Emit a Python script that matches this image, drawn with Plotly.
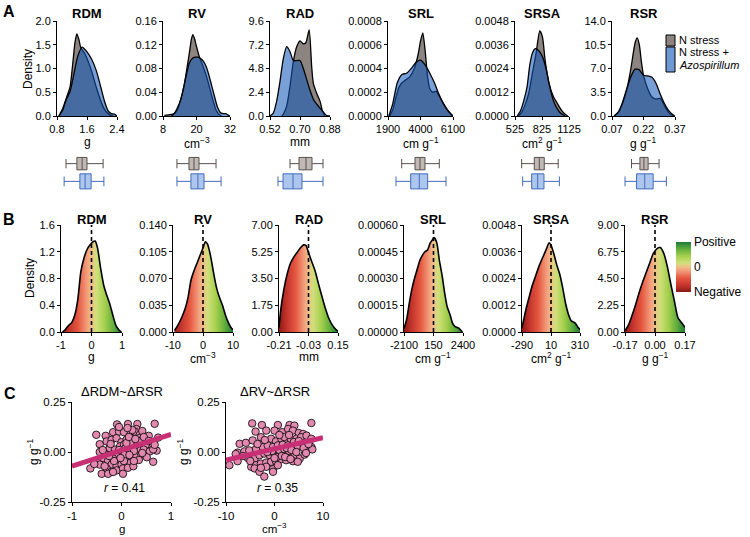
import plotly.graph_objects as go

W, H = 750, 537
FONT = "Arial, Liberation Sans, Helvetica, sans-serif"

# ---------------- data ----------------
VARS = ["RDM", "RV", "RAD", "SRL", "SRSA", "RSR"]
UNITS = ["g", "cm<sup>−3</sup>", "mm", "cm g<sup>−1</sup>", "cm<sup>2</sup> g<sup>−1</sup>", "g g<sup>−1</sup>"]

# Panel A axes
A_XTICKS = [[0.8, 1.6, 2.4], [8, 20, 32], [0.52, 0.70, 0.88], [1900, 4000, 6100], [525, 825, 1125], [0.07, 0.22, 0.37]]
A_XTEXT = [["0.8", "1.6", "2.4"], ["8", "20", "32"], ["0.52", "0.70", "0.88"], ["1900", "4000", "6100"],
           ["525", "825", "1125"], ["0.07", "0.22", "0.37"]]
A_YTICKS = [[0, 0.5, 1.0, 1.5, 2.0], [0, 0.04, 0.08, 0.12, 0.16], [0, 2.4, 4.8, 7.2, 9.6],
            [0, 0.0002, 0.0004, 0.0006, 0.0008], [0, 0.0012, 0.0024, 0.0036, 0.0048], [0, 3.5, 7.0, 10.5, 14.0]]
A_YTEXT = [["0.0", "0.5", "1.0", "1.5", "2.0"], ["0.00", "0.04", "0.08", "0.12", "0.16"],
           ["0.0", "2.4", "4.8", "7.2", "9.6"], ["0.0000", "0.0002", "0.0004", "0.0006", "0.0008"],
           ["0.0000", "0.0012", "0.0024", "0.0036", "0.0048"], ["0.0", "3.5", "7.0", "10.5", "14.0"]]

# Panel A densities: N stress (NS) and N stress + Azospirillum (AZ)
RDM_NS_X = [0.85, 0.95, 1.05, 1.15, 1.22, 1.28, 1.33, 1.38, 1.43, 1.55, 1.70, 1.85, 2.00, 2.10, 2.20, 2.30]
RDM_NS_Y = [0, 0.15, 0.38, 0.62, 1.10, 1.55, 1.73, 1.62, 1.45, 1.30, 1.00, 0.60, 0.25, 0.10, 0.03, 0]
RDM_AZ_X = [0.85, 0.95, 1.05, 1.15, 1.25, 1.35, 1.47, 1.60, 1.72, 1.85, 1.97, 2.07, 2.17, 2.25, 2.33, 2.40]
RDM_AZ_Y = [0, 0.12, 0.35, 0.52, 0.88, 1.25, 1.45, 1.35, 1.20, 0.95, 0.60, 0.30, 0.10, 0.05, 0.04, 0]

RV_NS_X = [8.5, 10, 11.5, 12.5, 13.5, 14.5, 15.5, 16.5, 17.5, 18.2, 18.7, 19.3, 20, 21, 22, 23, 24, 25, 26, 27, 28, 29]
RV_NS_Y = [0.001, 0.002, 0.003, 0.006, 0.014, 0.03, 0.05, 0.078, 0.108, 0.13, 0.137, 0.13, 0.117, 0.1, 0.088, 0.075,
           0.06, 0.042, 0.025, 0.01, 0.003, 0]
RV_AZ_X = [11, 12, 13, 14.5, 15.5, 16.5, 17.5, 18.5, 19.5, 20.5, 21.5, 22.5, 23.5, 24.5, 25.5, 26.5, 27.5, 28.5,
           29.5, 30.5, 31.5, 32]
RV_AZ_Y = [0, 0.004, 0.012, 0.03, 0.05, 0.072, 0.09, 0.097, 0.099, 0.099, 0.097, 0.092, 0.083, 0.068, 0.05, 0.032,
           0.015, 0.006, 0.004, 0.004, 0.001, 0]

RAD_NS_X = [0.59, 0.60, 0.62, 0.64, 0.66, 0.68, 0.70, 0.72, 0.735, 0.755, 0.77, 0.78, 0.80, 0.82, 0.835, 0.85]
RAD_NS_Y = [0, 0.2, 1.0, 3.0, 5.5, 7.0, 7.6, 7.3, 7.4, 8.7, 5.0, 3.3, 2.3, 1.5, 0.5, 0]
RAD_AZ_X = [0.52, 0.54, 0.56, 0.58, 0.60, 0.62, 0.64, 0.66, 0.68, 0.70, 0.72, 0.74, 0.76, 0.78, 0.80, 0.82, 0.84,
            0.86, 0.88]
RAD_AZ_Y = [0, 0.3, 1.5, 3.5, 5.8, 7.0, 6.5, 5.6, 5.6, 5.6, 4.8, 3.7, 2.6, 1.7, 1.2, 0.8, 0.4, 0.05, 0]

SRL_NS_X = [2000, 2200, 2400, 2600, 2800, 3000, 3300, 3600, 3850, 4000, 4150, 4300, 4450, 4600, 4800, 5000, 5200,
            5500, 5800, 6050]
SRL_NS_Y = [0, 0.00005, 0.00015, 0.00024, 0.00028, 0.0003, 0.00033, 0.0004, 0.00052, 0.00063, 0.0007, 0.00055,
            0.00034, 0.00023, 0.0002, 0.00021, 0.00017, 0.0001, 0.00004, 0]
SRL_AZ_X = [1950, 2200, 2500, 2800, 3100, 3400, 3700, 4000, 4300, 4600, 4900, 5200, 5500, 5800, 6100]
SRL_AZ_Y = [0, 0.0001, 0.00028, 0.00035, 0.00036, 0.0004, 0.00045, 0.00047, 0.00043, 0.00036, 0.00028, 0.00018,
            0.0001, 0.00004, 0]

SRSA_NS_X = [560, 600, 640, 680, 720, 760, 800, 830, 860, 900, 950, 1000, 1040, 1080, 1110]
SRSA_NS_Y = [0, 0.0002, 0.0006, 0.0012, 0.0022, 0.0032, 0.0043, 0.004, 0.0028, 0.0017, 0.001, 0.0006, 0.0003,
             0.0001, 0]
SRSA_AZ_X = [550, 590, 630, 660, 690, 720, 750, 790, 830, 870, 910, 950, 990, 1030, 1080]
SRSA_AZ_Y = [0, 0.0003, 0.0009, 0.0015, 0.0026, 0.0032, 0.0034, 0.0033, 0.003, 0.0024, 0.0015, 0.0008, 0.0004,
             0.00015, 0]

RSR_NS_X = [0.08, 0.10, 0.12, 0.14, 0.16, 0.18, 0.19, 0.20, 0.21, 0.22, 0.24, 0.26, 0.28, 0.30, 0.32, 0.34, 0.36]
RSR_NS_Y = [0, 0.5, 1.8, 3.8, 7.0, 10.8, 11.5, 10.5, 8.0, 6.0, 4.0, 2.8, 2.5, 2.6, 1.5, 0.5, 0]
RSR_AZ_X = [0.08, 0.10, 0.12, 0.14, 0.16, 0.18, 0.20, 0.22, 0.24, 0.26, 0.28, 0.30, 0.32, 0.34, 0.36, 0.37]
RSR_AZ_Y = [0, 0.6, 2.0, 4.0, 5.8, 6.9, 6.8, 6.0, 5.9, 5.7, 4.8, 3.2, 1.8, 0.8, 0.2, 0]

A_NS = [(RDM_NS_X, RDM_NS_Y), (RV_NS_X, RV_NS_Y), (RAD_NS_X, RAD_NS_Y), (SRL_NS_X, SRL_NS_Y),
        (SRSA_NS_X, SRSA_NS_Y), (RSR_NS_X, RSR_NS_Y)]
A_AZ = [(RDM_AZ_X, RDM_AZ_Y), (RV_AZ_X, RV_AZ_Y), (RAD_AZ_X, RAD_AZ_Y), (SRL_AZ_X, SRL_AZ_Y),
        (SRSA_AZ_X, SRSA_AZ_Y), (RSR_AZ_X, RSR_AZ_Y)]

# Box plot statistics (RDM, RV, RAD, SRL, SRSA, RSR)
NS_LO = [1.04, 13.0, 0.640, 2785, 599, 0.163]
NS_Q1 = [1.33, 17.3, 0.694, 3644, 739, 0.203]
NS_MED = [1.47, 19.1, 0.736, 3967, 795, 0.222]
NS_Q3 = [1.60, 20.9, 0.772, 4290, 850, 0.242]
NS_HI = [2.03, 27.0, 0.838, 5215, 1005, 0.294]
AZ_LO = [0.99, 13.0, 0.568, 2417, 610, 0.132]
AZ_Q1 = [1.41, 18.0, 0.598, 3366, 710, 0.187]
AZ_MED = [1.55, 20.5, 0.658, 3922, 777, 0.226]
AZ_Q3 = [1.71, 22.7, 0.712, 4464, 847, 0.266]
AZ_HI = [2.05, 28.8, 0.838, 5647, 1018, 0.329]

# Panel B axes
B_XTICKS = [[-1, 0, 1], [-10, 0, 10], [-0.21, -0.03, 0.15], [-2100, 150, 2400], [-290, 10, 310], [-0.17, 0.0, 0.17]]
B_XTEXT = [["-1", "0", "1"], ["-10", "0", "10"], ["-0.21", "-0.03", "0.15"], ["-2100", "150", "2400"],
           ["-290", "10", "310"], ["-0.17", "0.00", "0.17"]]
B_YTICKS = [[0, 0.4, 0.8, 1.2, 1.6], [0, 0.035, 0.07, 0.105, 0.14], [0, 1.75, 3.5, 5.25, 7.0],
            [0, 0.00015, 0.0003, 0.00045, 0.0006], [0, 0.0012, 0.0024, 0.0036, 0.0048], [0, 2.25, 4.5, 6.75, 9.0]]
B_YTEXT = [["0.0", "0.4", "0.8", "1.2", "1.6"], ["0.000", "0.035", "0.070", "0.105", "0.140"],
           ["0.00", "1.75", "3.50", "5.25", "7.00"], ["0.00000", "0.00015", "0.00030", "0.00045", "0.00060"],
           ["0.0000", "0.0012", "0.0024", "0.0036", "0.0048"], ["0.00", "2.25", "4.50", "6.75", "9.00"]]

# Panel B: density of the difference (Azospirillum - N stress)
D_RDM_X = [-0.95, -0.85, -0.75, -0.65, -0.55, -0.45, -0.35, -0.25, -0.15, -0.05, 0.05, 0.12, 0.2, 0.3, 0.4, 0.5,
           0.6, 0.7, 0.8, 0.9, 0.98]
D_RDM_Y = [0, 0.04, 0.1, 0.14, 0.25, 0.48, 0.9, 1.1, 1.23, 1.3, 1.35, 1.36, 1.25, 0.95, 0.7, 0.55, 0.42, 0.25,
           0.1, 0.03, 0]
D_RV_X = [-9.5, -8.5, -7, -6, -5, -4, -3, -2, -1, 0, 0.8, 1.5, 2.5, 3.5, 4.5, 5.5, 6.5, 7.5, 8.5, 9.5, 10]
D_RV_Y = [0.002, 0.008, 0.02, 0.03, 0.045, 0.068, 0.08, 0.09, 0.1, 0.11, 0.118, 0.115, 0.1, 0.078, 0.058, 0.045,
          0.035, 0.022, 0.012, 0.005, 0.003]
D_RAD_X = [-0.21, -0.2, -0.18, -0.16, -0.14, -0.12, -0.1, -0.08, -0.06, -0.045, -0.03, -0.01, 0.01, 0.03, 0.05,
           0.07, 0.09, 0.11, 0.13, 0.15]
D_RAD_Y = [0.3, 1.4, 2.8, 3.8, 4.5, 4.9, 5.2, 5.5, 5.7, 5.65, 5.2, 4.6, 4.0, 3.2, 2.4, 1.65, 1.0, 0.55, 0.25, 0.05]
D_SRL_X = [-2100, -1900, -1700, -1500, -1300, -1100, -900, -700, -500, -300, -100, 100, 200, 400, 600, 800, 1000,
           1200, 1400, 1600, 1800, 2100, 2350]
D_SRL_Y = [0.00002, 0.00007, 0.00016, 0.00024, 0.0003, 0.00035, 0.0004, 0.00043, 0.00045, 0.00046, 0.0005,
           0.00052, 0.00053, 0.0005, 0.0004, 0.00032, 0.00022, 0.00014, 0.0001, 0.00005, 0.00003, 0.00002, 0]
D_SRSA_X = [-290, -270, -250, -220, -190, -150, -110, -70, -40, -10, 10, 40, 70, 100, 130, 160, 190, 220, 260,
            290, 310]
D_SRSA_Y = [0.0002, 0.0006, 0.001, 0.0015, 0.002, 0.0025, 0.003, 0.0034, 0.0037, 0.004, 0.0039, 0.0035, 0.003,
            0.0026, 0.002, 0.0013, 0.0008, 0.0005, 0.0004, 0.0002, 0.0001]
D_RSR_X = [-0.17, -0.15, -0.13, -0.11, -0.09, -0.07, -0.05, -0.03, -0.01, 0.01, 0.03, 0.05, 0.07, 0.09, 0.11,
           0.13, 0.15, 0.17]
D_RSR_Y = [0.1, 0.6, 1.4, 2.3, 3.3, 4.2, 5.0, 5.8, 6.6, 7.0, 7.1, 6.6, 5.5, 4.0, 2.6, 1.2, 0.8, 0.4]
B_DATA = [(D_RDM_X, D_RDM_Y), (D_RV_X, D_RV_Y), (D_RAD_X, D_RAD_Y), (D_SRL_X, D_SRL_Y), (D_SRSA_X, D_SRSA_Y),
          (D_RSR_X, D_RSR_Y)]

# Panel C: scatter of differences
C1_X = [-0.09, 0.13, 0.32, 0.67, 0.30, -0.51, -0.32, -0.17, -0.05, 0.05, 0.18, 0.27, 0.37, 0.42, 0.55, 0.74,
        -0.44, -0.30, -0.20, -0.10, 0.00, 0.10, 0.20, 0.30, 0.36, 0.44, 0.51, 0.61, -0.44, -0.24, -0.13, -0.03,
        0.05, 0.13, 0.24, 0.32, 0.40, 0.49, -0.32, -0.20, -0.10, 0.02, 0.11, 0.20, 0.29, 0.37, 0.45, 0.57, 0.71,
        -0.63, -0.45, -0.37, -0.27, -0.17, -0.07, 0.03, 0.12, 0.20, 0.30, 0.40, 0.51, 0.64, -0.20, -0.10, 0.00,
        0.09, 0.18, -0.30, -0.20, -0.10, 0.03, 0.13, 0.24, -0.40, -0.27, -0.17, 0.03, 0.64, 0.67, -0.44, -0.34,
        0.08, 0.15, 0.22, 0.28, 0.18, 0.25, 0.10, -0.05, 0.33, 0.06, 0.16, -0.15, -0.25, 0.38, 0.45, -0.38, 0.15,
        -0.22, 0.05, -0.55, 0.35, 0.25, 0.28, -0.02, 0.42, 0.55, 0.22, -0.05, 0.12]
C1_Y = [0.138, 0.140, 0.140, 0.141, 0.115, 0.086, 0.081, 0.099, 0.102, 0.099, 0.089, 0.102, 0.086, 0.105, 0.081,
        0.072, 0.039, 0.053, 0.061, 0.069, 0.049, 0.061, 0.061, 0.053, 0.069, 0.053, 0.036, 0.036, 0.000, 0.020,
        0.012, 0.028, 0.036, 0.036, 0.041, 0.028, 0.036, 0.036, -0.013, -0.013, -0.016, 0.003, -0.005, 0.003,
        0.012, 0.007, 0.012, 0.003, 0.007, -0.082, -0.046, -0.030, -0.043, -0.033, -0.046, -0.026, -0.038, -0.026,
        -0.021, -0.013, -0.026, -0.049, -0.063, -0.071, -0.063, -0.059, -0.054, -0.082, -0.099, -0.092, -0.082,
        -0.079, -0.071, -0.109, -0.109, -0.100, -0.109, 0.013, 0.036, -0.063, -0.071, 0.020, 0.015, 0.025, 0.035,
        0.045, 0.005, 0.045, 0.010, 0.045, -0.015, -0.015, -0.045, -0.020, 0.055, 0.075, 0.010, 0.075, 0.040,
        -0.045, -0.060, -0.040, -0.045, 0.065, -0.030, -0.005, 0.055, 0.110, 0.125, 0.120]
C1_FIT_X = [-1, 1]
C1_FIT_Y = [-0.071, 0.088]
C1_R = "0.41"

C2_X = [-4.6, -2.6, 0.7, 3.1, 4.1, 7.6, -3.9, -1.7, 0.0, 1.6, 2.8, 3.8, 5.0, 5.9, -7.2, -5.9, -4.5, -2.8, -1.7,
        -0.7, 0.3, 1.4, 2.4, 3.4, 4.5, 5.5, 6.6, 7.6, -7.6, -6.2, -5.2, -3.8, -2.4, -1.4, -0.3, 0.7, 1.7, 2.8, 3.8,
        4.8, 5.9, 7.6, 7.8, -9.3, -7.6, -5.5, -4.1, -3.1, -2.1, -1.0, 0.0, 1.0, 2.1, 3.1, 4.1, 5.2, 6.2, -4.8,
        -3.8, -2.8, -1.7, -0.7, 0.3, 1.4, 2.4, 3.8, 4.8, -4.1, -3.1, -1.7, -0.3, 0.7, -2.1, -0.3, -2.8, 1.0, 2.0,
        3.0, 0.5, 1.5, 2.5, 3.5, 4.5, -0.5, -1.5, 2.0, 1.0, 3.0, 4.0, 5.0, 6.0, -2.0, -3.5, -6.5, -5.0, 0.0, 2.2,
        3.3, 6.5, -8.0, 7.0]
C2_Y = [0.143, 0.135, 0.135, 0.135, 0.132, 0.145, 0.102, 0.107, 0.107, 0.099, 0.115, 0.107, 0.095, 0.090, 0.041,
        0.046, 0.058, 0.074, 0.049, 0.066, 0.053, 0.066, 0.049, 0.063, 0.066, 0.074, 0.082, 0.066, -0.003, 0.003,
        0.008, 0.016, 0.025, 0.033, 0.025, 0.033, 0.036, 0.033, 0.036, 0.030, 0.041, 0.025, 0.013, -0.066,
        -0.046, -0.030, -0.033, -0.016, -0.008, -0.016, -0.013, -0.008, -0.003, -0.016, -0.016, -0.033, -0.013,
        -0.074, -0.066, -0.058, -0.053, -0.049, -0.046, -0.036, -0.041, -0.046, -0.049, -0.082, -0.099, -0.074,
        -0.086, -0.066, -0.123, -0.099, -0.079, 0.010, 0.015, 0.005, -0.025, -0.020, 0.020, 0.010, 0.000, 0.005,
        0.000, 0.075, 0.085, 0.085, 0.050, 0.055, 0.020, 0.060, 0.040, -0.020, -0.045, -0.030, -0.025, -0.035,
        -0.005, -0.010, 0.040]
C2_FIT_X = [-10, 10]
C2_FIT_Y = [-0.040, 0.072]
C2_R = "0.35"

C_TITLES = ["ΔRDM~ΔRSR", "ΔRV~ΔRSR"]
C_XTICKS = [[-1, 0, 1], [-10, 0, 10]]
C_XTEXT = [["-1", "0", "1"], ["-10", "0", "10"]]
C_YTICKS = [-0.25, 0, 0.25]
C_YTEXT = ["-0.25", "0.00", "0.25"]
C_XUNITS = ["g", "cm<sup>−3</sup>"]
C_YUNIT = "g g<sup>−1</sup>"

LEGEND_A = ["N stress", "N stress +", "<i>Azospirillum</i>"]
LEGEND_B = ["Negative", "0", "Positive"]

# ---------------- styling ----------------
GREY_FILL = "rgb(140,132,128)"
BLUE_FILL = "rgba(17,88,184,0.57)"
BOX_NS_FILL, BOX_NS_LINE = "rgb(192,184,180)", "rgb(88,80,78)"
BOX_AZ_FILL, BOX_AZ_LINE = "rgb(172,198,238)", "rgb(66,108,190)"
GRAD = [[0.0, "#8a1a14"], [0.12, "#c0312b"], [0.28, "#e5573f"], [0.42, "#f29a7a"], [0.5, "#f0bf88"],
        [0.58, "#cfe07a"], [0.72, "#a5cf4c"], [0.86, "#62ae3c"], [1.0, "#1e7a36"]]
PT_FILL = "rgb(226,137,176)"
FIT_COLOR = "rgb(200,48,118)"

A_COLS = [(57, 117), (163, 230), (270, 330), (388, 453), (515, 569), (612, 675)]
B_COLS = [(61, 122), (173, 233), (279, 338), (404, 463), (522, 580), (625, 685)]
C_COLS = [(72, 171), (226, 323)]
A_Y, BOX_Y, B_Y, C_Y = (21, 116), (153, 192), (225, 332), (402, 502)


def dx(a, b):
    return [a / W, b / W]


def dy(top, bot):
    return [1 - bot / H, 1 - top / H]


def ak(i):
    return ("x" if i == 1 else f"x{i}"), ("y" if i == 1 else f"y{i}")


layout_axes = {}
annotations = []
shapes = []
traces = []


def add_axes(i, xcols, yrows, xrange, yrange, xtv=None, xtt=None, ytv=None, ytt=None, visible=True, fs=11):
    xn, yn = ak(i)
    base = dict(showgrid=False, zeroline=False, fixedrange=True, automargin=False)
    if visible:
        base.update(showline=True, linecolor="black", linewidth=1, ticks="outside", ticklen=3, tickwidth=1,
                    tickcolor="black", tickfont=dict(size=fs, color="black", family=FONT))
    else:
        base.update(visible=False)
    xa = dict(base, domain=dx(*xcols), range=xrange, anchor=yn)
    ya = dict(base, domain=dy(*yrows), range=yrange, anchor=xn)
    if visible:
        xa.update(tickmode="array", tickvals=xtv, ticktext=xtt)
        ya.update(tickmode="array", tickvals=ytv, ticktext=ytt)
    layout_axes["xaxis" if i == 1 else f"xaxis{i}"] = xa
    layout_axes["yaxis" if i == 1 else f"yaxis{i}"] = ya
    return xn, yn


def ann(text, px, py, size=12, bold=False, angle=0, xanchor="center", yanchor="middle"):
    if bold:
        text = f"<b>{text}</b>"
    annotations.append(dict(text=text, x=px / W, y=1 - py / H, xref="paper", yref="paper", showarrow=False,
                            xanchor=xanchor, yanchor=yanchor, textangle=angle,
                            font=dict(size=size, family=FONT, color="black")))


# ---------------- Panel A ----------------
for k in range(6):
    i = k + 1
    xr = [A_XTICKS[k][0], A_XTICKS[k][-1]]
    yr = [0, A_YTICKS[k][-1]]
    xn, yn = add_axes(i, A_COLS[k], A_Y, xr, yr, A_XTICKS[k], A_XTEXT[k], A_YTICKS[k], A_YTEXT[k], fs=11)
    nx, ny = A_NS[k]
    bx, by = A_AZ[k]
    traces.append(go.Scatter(x=nx, y=ny, mode="lines", fill="tozeroy", fillcolor=GREY_FILL,
                             line=dict(color="black", width=1.3, shape="spline", smoothing=0.6),
                             xaxis=xn, yaxis=yn, showlegend=False, hoverinfo="skip"))
    traces.append(go.Scatter(x=bx, y=by, mode="lines", fill="tozeroy", fillcolor=BLUE_FILL,
                             line=dict(color="black", width=1.3, shape="spline", smoothing=0.6),
                             xaxis=xn, yaxis=yn, showlegend=False, hoverinfo="skip"))
    c = (A_COLS[k][0] + A_COLS[k][1]) / 2
    ann(VARS[k], c, 14, size=13, bold=True)
    ann(UNITS[k], c, 133, size=12, yanchor="top")

    # box plots below
    j = 6 + i
    xn2, yn2 = add_axes(j, A_COLS[k], BOX_Y, xr, [-0.6, 1.6], visible=False)
    traces.append(go.Box(y=[1], q1=[NS_Q1[k]], median=[NS_MED[k]], q3=[NS_Q3[k]], lowerfence=[NS_LO[k]],
                         upperfence=[NS_HI[k]], orientation="h", fillcolor=BOX_NS_FILL,
                         line=dict(color=BOX_NS_LINE, width=1), width=0.7, whiskerwidth=0.75,
                         xaxis=xn2, yaxis=yn2, showlegend=False, hoverinfo="skip"))
    traces.append(go.Box(y=[0], q1=[AZ_Q1[k]], median=[AZ_MED[k]], q3=[AZ_Q3[k]], lowerfence=[AZ_LO[k]],
                         upperfence=[AZ_HI[k]], orientation="h", fillcolor=BOX_AZ_FILL,
                         line=dict(color=BOX_AZ_LINE, width=1), width=0.85, whiskerwidth=0.65,
                         xaxis=xn2, yaxis=yn2, showlegend=False, hoverinfo="skip"))

ann("Density", 28, 69, size=12, angle=-90)

# legend A
shapes.append(dict(type="rect", xref="paper", yref="paper", x0=666 / W, x1=675 / W, y0=1 - 46 / H, y1=1 - 35 / H,
                   fillcolor=GREY_FILL, line=dict(color="black", width=1)))
shapes.append(dict(type="rect", xref="paper", yref="paper", x0=666 / W, x1=675 / W, y0=1 - 72 / H, y1=1 - 47 / H,
                   fillcolor="rgb(110,152,212)", line=dict(color="black", width=1)))
ann(LEGEND_A[0], 677, 39.5, size=11, xanchor="left")
ann(LEGEND_A[1], 677, 52.3, size=11, xanchor="left")
ann(LEGEND_A[2], 677, 65.1, size=11, xanchor="left")

# ---------------- Panel B ----------------
for k in range(6):
    i = 13 + k
    xr = [B_XTICKS[k][0], B_XTICKS[k][-1]]
    yr = [0, B_YTICKS[k][-1]]
    xn, yn = add_axes(i, B_COLS[k], B_Y, xr, yr, B_XTICKS[k], B_XTEXT[k], B_YTICKS[k], B_YTEXT[k], fs=11)
    x, y = B_DATA[k]
    traces.append(go.Scatter(x=x, y=y, mode="lines", fill="tozeroy",
                             fillgradient=dict(type="horizontal", colorscale=GRAD, start=xr[0], stop=xr[1]),
                             line=dict(color="black", width=1.6, shape="spline", smoothing=0.6),
                             xaxis=xn, yaxis=yn, showlegend=False, hoverinfo="skip"))
    mid = B_XTICKS[k][1]
    traces.append(go.Scatter(x=[mid, mid], y=[0, yr[1]], mode="lines",
                             line=dict(color="black", width=1.6, dash="4px,3px"),
                             xaxis=xn, yaxis=yn, showlegend=False, hoverinfo="skip", cliponaxis=False))
    c = (B_COLS[k][0] + B_COLS[k][1]) / 2
    ann(VARS[k], c, 219, size=13, bold=True)
    ann(UNITS[k], c, 348, size=12, yanchor="top")

ann("Density", 30, 278, size=12, angle=-90)

# colour legend B
traces.append(go.Scatter(x=[0], y=[0], mode="markers", xaxis="x19", yaxis="y19",
                         marker=dict(size=1, opacity=0, color=[0], colorscale=GRAD, cmin=-1, cmax=1,
                                     showscale=True,
                                     colorbar=dict(x=676 / W, xanchor="left", y=1 - 242 / H, yanchor="top",
                                                   len=50 / H, lenmode="fraction", thickness=15, outlinewidth=0,
                                                   xpad=0, ypad=0, tickmode="array", tickvals=[-1, 0, 1],
                                                   ticktext=LEGEND_B, ticks="", ticklabelposition="outside",
                                                   tickfont=dict(size=12, family=FONT, color="black"))),
                         showlegend=False, hoverinfo="skip"))

# ---------------- Panel C ----------------
C_DATA = [(C1_X, C1_Y, C1_FIT_X, C1_FIT_Y, C1_R), (C2_X, C2_Y, C2_FIT_X, C2_FIT_Y, C2_R)]
for k in range(2):
    i = 19 + k
    xr = [C_XTICKS[k][0], C_XTICKS[k][-1]]
    xn, yn = add_axes(i, C_COLS[k], C_Y, xr, [-0.25, 0.25], C_XTICKS[k], C_XTEXT[k], C_YTICKS, C_YTEXT, fs=11.5)
    px_, py_, fx, fy, r = C_DATA[k]
    traces.append(go.Scatter(x=px_, y=py_, mode="markers",
                             marker=dict(size=7.5, color=PT_FILL, line=dict(color="black", width=0.8)),
                             xaxis=xn, yaxis=yn, showlegend=False, hoverinfo="skip"))
    traces.append(go.Scatter(x=fx, y=fy, mode="lines", line=dict(color=FIT_COLOR, width=5),
                             xaxis=xn, yaxis=yn, showlegend=False, hoverinfo="skip"))
    annotations.append(dict(text=f"<i>r</i> = {r}", x=(xr[0] + xr[1]) / 2 + (xr[1] - xr[0]) * 0.03,
                            y=-0.18, xref=xn, yref=yn, showarrow=False, xanchor="center", yanchor="middle",
                            font=dict(size=12, family=FONT, color="black")))
    c = (C_COLS[k][0] + C_COLS[k][1]) / 2
    ann(C_TITLES[k], c, 391, size=13)
    ann(C_XUNITS[k], c, 537, size=11.5, yanchor="bottom")

ann(C_YUNIT, 33, 452, size=12, angle=-90)
ann(C_YUNIT, 183, 452, size=12, angle=-90)

# panel letters
ann("A", 9, 12, size=16, bold=True)
ann("B", 9, 219, size=16, bold=True)
ann("C", 10, 393, size=16, bold=True)

fig = go.Figure(data=traces)
fig.update_layout(width=W, height=H, margin=dict(l=0, r=0, t=0, b=0, pad=0, autoexpand=False),
                  plot_bgcolor="white", paper_bgcolor="white", font=dict(family=FONT, color="black"),
                  showlegend=False, annotations=annotations, shapes=shapes, **layout_axes)
fig.write_html("out.html", post_script="document.body.style.margin='0';",
               config={"displayModeBar": False})
